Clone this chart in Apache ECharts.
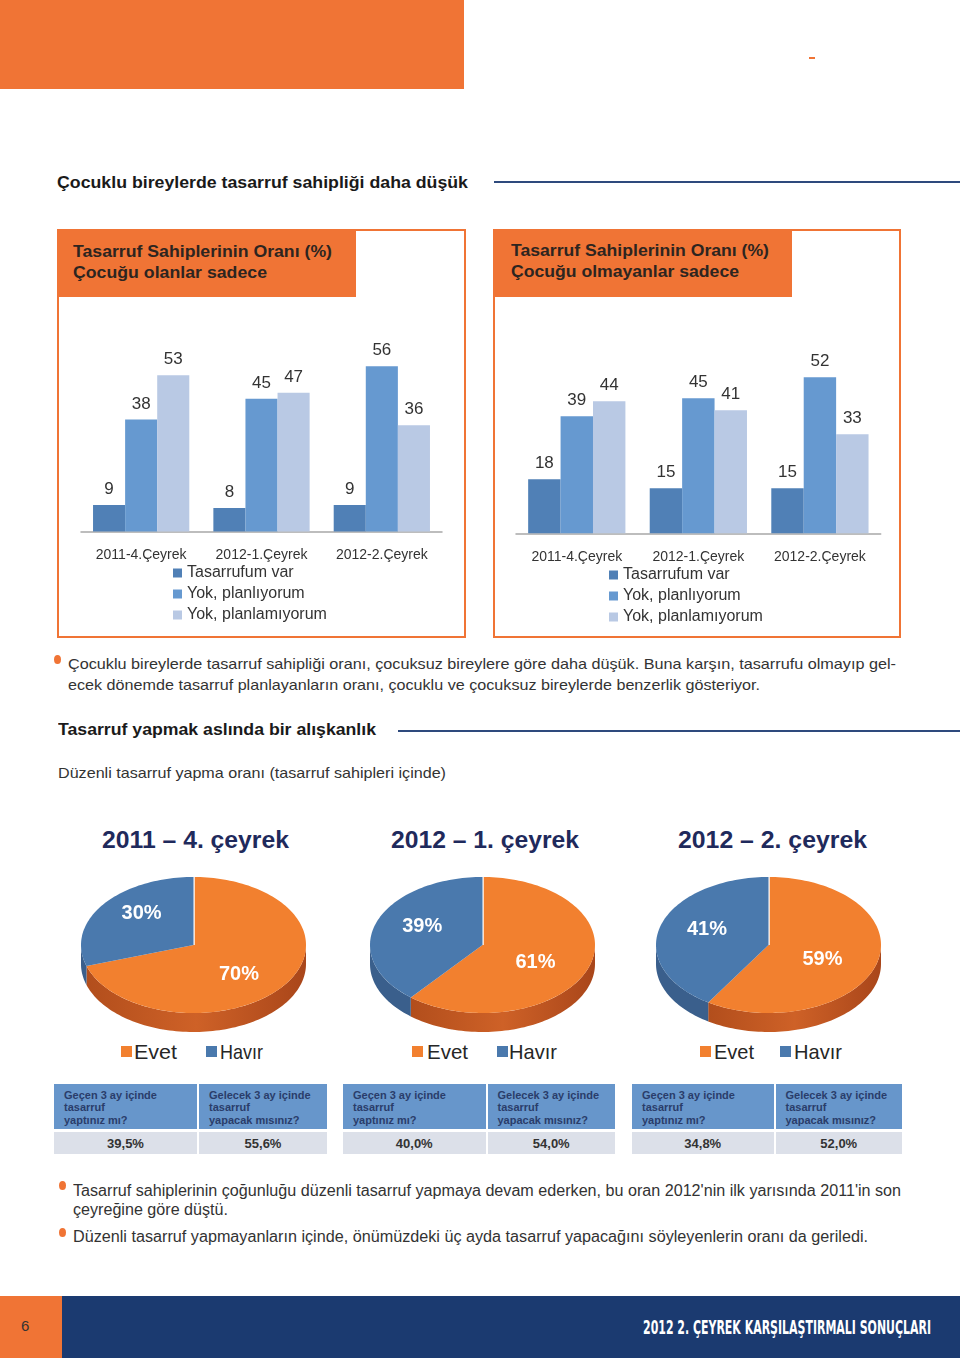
<!DOCTYPE html>
<html lang="tr"><head><meta charset="utf-8">
<script src="https://cdn.jsdelivr.net/npm/echarts/dist/echarts.min.js"></script>
<style>
html,body{margin:0;padding:0;background:#fff;}
#page{position:relative;width:960px;height:1358px;overflow:hidden;font-family:'Liberation Sans',Arial,sans-serif;color:#333;}
.abs{position:absolute;}
.t{position:absolute;left:0;white-space:nowrap;line-height:1;transform-origin:0 50%;}
.box{position:absolute;border:2px solid #F07435;box-sizing:border-box;}
.dot{position:absolute;width:7px;height:9px;border-radius:50%;background:#F07435;}
</style></head><body><div id="page"></div>
<script>
// ---------- DATA ----------
const barCategories = ['2011-4.Çeyrek', '2012-1.Çeyrek', '2012-2.Çeyrek'];
const barSeriesNames = ['Tasarrufum var', 'Yok, planlıyorum', 'Yok, planlamıyorum'];
const withChildHas = [9, 8, 9];
const withChildPlan = [38, 45, 56];
const withChildNoPlan = [53, 47, 36];
const noChildHas = [18, 15, 15];
const noChildPlan = [39, 45, 52];
const noChildNoPlan = [44, 41, 33];
const pieQuarters = ['2011 – 4. çeyrek', '2012 – 1. çeyrek', '2012 – 2. çeyrek'];
const pieLegend = ['Evet', 'Havır'];
const pieEvet = [70, 61, 59];
const pieHavir = [30, 39, 41];
const tableHeads = ['Geçen 3 ay içinde\ntasarruf\nyaptınız mı?', 'Gelecek 3 ay içinde\ntasarruf\nyapacak mısınız?'];
const pastSaving = ['39,5%', '40,0%', '34,8%'];
const futureSaving = ['55,6%', '54,0%', '52,0%'];

// ---------- STYLE ----------
const FONT = "'Liberation Sans', Arial, sans-serif";
const ORANGE = '#F07435';
const NAVY = '#1B3A70';
const LINE = '#2E4A7D';
const BAR_COLORS = ['#5080B6', '#6699D0', '#B9C9E4'];
const page = document.getElementById('page');

function rect(x, y, w, h, bg, cls) {
  const d = document.createElement('div');
  d.className = cls || 'abs';
  Object.assign(d.style, {left: x + 'px', top: y + 'px', width: w + 'px', height: h + 'px'});
  if (bg) d.style.background = bg;
  page.appendChild(d); return d;
}
function T(text, x, cy, fs, w, o) {
  o = o || {};
  const d = document.createElement('div');
  d.className = 't'; d.textContent = text;
  d.style.fontSize = fs + 'px';
  d.style.fontWeight = o.bold ? 'bold' : 'normal';
  d.style.color = o.color || '#333';
  if (o.family) d.style.fontFamily = o.family;
  d.style.top = (cy - 0.49 * fs) + 'px';
  page.appendChild(d);
  const a = d.getBoundingClientRect().width;
  const s = w ? w / a : 1;
  d.style.left = (o.center ? x - (w || a) / 2 : x) + 'px';
  d.style.transform = 'scaleX(' + s + ')';
  return d;
}

// ---------- PAGE FRAME ----------
rect(0, 0, 464, 89, ORANGE);
rect(809, 57, 6, 2, ORANGE);
T('Çocuklu bireylerde tasarruf sahipliği daha düşük', 57, 182, 17, 411, {bold: true, color: '#1a1a1a'});
rect(494, 181, 466, 2, LINE);

rect(57, 229, 409, 409, null, 'box');
rect(493, 229, 408, 409, null, 'box');
rect(57, 229, 299, 68, ORANGE);
rect(493, 229, 299, 68, ORANGE);
T('Tasarruf Sahiplerinin Oranı (%)', 73, 251.5, 17, 259, {bold: true, color: '#2d2520'});
T('Çocuğu olanlar sadece', 73, 272.5, 17, 194, {bold: true, color: '#2d2520'});
T('Tasarruf Sahiplerinin Oranı (%)', 510.5, 250, 17, 258, {bold: true, color: '#2d2520'});
T('Çocuğu olmayanlar sadece', 510.5, 271, 17, 228, {bold: true, color: '#2d2520'});

rect(54, 655, 7, 9, null, 'dot');
T('Çocuklu bireylerde tasarruf sahipliği oranı, çocuksuz bireylere göre daha düşük. Buna karşın, tasarrufu olmayıp gel-', 68, 663, 15, 828);
T('ecek dönemde tasarruf planlayanların oranı, çocuklu ve çocuksuz bireylerde benzerlik gösteriyor.', 68, 684, 15, 692);

T('Tasarruf yapmak aslında bir alışkanlık', 58, 729, 17, 318, {bold: true, color: '#1a1a1a'});
rect(398, 730, 562, 2, LINE);
T('Düzenli tasarruf yapma oranı (tasarruf sahipleri içinde)', 58, 772, 15, 388);

// pie titles & legends
const titleCenters = [195.5, 485, 772.5];
const titleWidths = [187, 188, 189];
pieQuarters.forEach((q, k) => T(q, titleCenters[k], 840, 24, titleWidths[k], {bold: true, center: true, color: '#1F2A5C'}));
const legSq = [[121, 206], [412, 496.5], [699.5, 780]];
const legTx = [[134, 219.5], [426.5, 509], [713.5, 794]];
const legW = [[43, 43], [41, 48], [40, 48]];
const PIE_COLORS = ['#F2802F', '#4A79AD'];
for (let k = 0; k < 3; k++) {
  for (let i = 0; i < 2; i++) {
    rect(legSq[k][i], 1046, 11, 11, PIE_COLORS[i]);
    T(pieLegend[i], legTx[k][i], 1051.5, 21, legW[k][i], {color: '#262626'});
  }
}

// tables
const tblCols = [[[54, 197], [199, 327]], [[343, 485.5], [487.5, 615]], [[632, 773.5], [775.5, 902]]];
for (let k = 0; k < 3; k++) {
  const vals = [pastSaving[k], futureSaving[k]];
  for (let c = 0; c < 2; c++) {
    const [x0, x1] = tblCols[k][c];
    rect(x0, 1084, x1 - x0, 45, '#6796CB');
    rect(x0, 1132, x1 - x0, 22, '#DCE0E9');
    tableHeads[c].split('\n').forEach((ln, j) => T(ln, x0 + 10, 1095 + j * 12.8, 11, null, {bold: true, color: '#2A3D6A'}));
    T(vals[c], (x0 + x1) / 2, 1143.3, 13, null, {bold: true, center: true, color: '#333'});
  }
}

rect(58.5, 1180.5, 7, 9, null, 'dot');
T("Tasarruf sahiplerinin çoğunluğu düzenli tasarruf yapmaya devam ederken, bu oran 2012'nin ilk yarısında 2011'in son", 73, 1190.5, 16, 828);
T('çeyreğine göre düştü.', 73, 1209.5, 16, 155);
rect(58.5, 1228, 7, 9, null, 'dot');
T('Düzenli tasarruf yapmayanların içinde, önümüzdeki üç ayda tasarruf yapacağını söyleyenlerin oranı da geriledi.', 73, 1237, 16, 795);

rect(0, 1296, 62, 62, ORANGE);
rect(62, 1296, 898, 62, NAVY);
T('6', 21, 1325, 15, null, {color: '#333'});
T('2012 2. ÇEYREK KARŞILAŞTIRMALI SONUÇLARI', 643, 1327, 19, 288, {bold: true, color: '#fff', family: "'Liberation Sans Narrow','DejaVu Sans Condensed',sans-serif"});

// ---------- BAR CHARTS ----------
function chartDiv(x, y, w, h) { return rect(x, y, w, h, null); }
function barOption(vals, g, lg) {
  return {
    animation: false,
    textStyle: {fontFamily: FONT},
    grid: {left: g.l, top: g.t, width: g.w, height: g.h},
    xAxis: {type: 'category', data: barCategories,
      axisLine: {lineStyle: {color: '#a8a8a8', width: 1.5}}, axisTick: {show: false},
      axisLabel: {fontSize: 14, color: '#333', margin: 17, fontFamily: FONT}},
    yAxis: {type: 'value', min: 0, max: 60, show: false},
    legend: {orient: 'vertical', left: lg.l, top: lg.t, padding: 0, itemWidth: 9, itemHeight: 9, itemGap: 5,
      icon: 'rect', textStyle: {fontSize: 16, color: '#333', lineHeight: 16, fontFamily: FONT}, data: barSeriesNames},
    series: vals.map((v, i) => ({
      name: barSeriesNames[i], type: 'bar', data: v, barGap: '0%', barCategoryGap: '20%',
      itemStyle: {color: BAR_COLORS[i]},
      label: {show: true, position: 'top', distance: 7, fontSize: 17, color: '#333', fontFamily: FONT}
    }))
  };
}
echarts.init(chartDiv(57, 300, 408, 336)).setOption(
  barOption([withChildHas, withChildPlan, withChildNoPlan], {l: 24, t: 54.5, w: 361, h: 177}, {l: 116, t: 265}));
echarts.init(chartDiv(493, 300, 408, 336)).setOption(
  barOption([noChildHas, noChildPlan, noChildNoPlan], {l: 23, t: 53.3, w: 364.7, h: 180}, {l: 116, t: 267}));

// ---------- PIE CHARTS (tilted 3D look via custom series) ----------
const PIE_CX = [193.5, 482.5, 768.5], PIE_CY = 85, PIE_RX = 112.5, PIE_RY = 68, PIE_D = 19;
const LABEL_FX = [0.5, 0.57], LABEL_FY = [0.75, 0.8];
const SIDE_COLORS = [
  new echarts.graphic.LinearGradient(0, 0, 1, 0, [{offset: 0, color: '#B24E1C'}, {offset: 0.5, color: '#CE6127'}, {offset: 1, color: '#A9461A'}]),
  '#3A5F8C'];
function pieSeries(k) {
  const vals = [pieEvet[k], pieHavir[k]];
  const total = vals.reduce((a, b) => a + b, 0);
  const cx = PIE_CX[k], cy = PIE_CY, rx = PIE_RX, ry = PIE_RY, d = PIE_D;
  const pt = (th, dy) => [cx + rx * Math.sin(th), cy - ry * Math.cos(th) + (dy || 0)];
  const arc = (a, b, dy) => { const n = Math.max(2, Math.ceil(Math.abs(b - a) / 0.03)); const out = [];
    for (let s = 0; s <= n; s++) out.push(pt(a + (b - a) * s / n, dy)); return out; };
  return {
    type: 'custom', coordinateSystem: 'none',
    data: vals.map((v, i) => ({name: pieLegend[i], value: v})),
    renderItem: (params, api) => {
      const i = params.dataIndex;
      let start = 0; for (let j = 0; j < i; j++) start += vals[j];
      const a0 = start / total * 2 * Math.PI, a1 = (start + api.value(0)) / total * 2 * Math.PI;
      const children = [];
      const sa = Math.max(a0, Math.PI / 2), sb = Math.min(a1, 3 * Math.PI / 2);
      if (sa < sb) {
        children.push({type: 'polygon', shape: {points: arc(sa, sb, 0).concat(arc(sb, sa, d))},
          style: {fill: SIDE_COLORS[i]}});
      }
      children.push({type: 'polygon', shape: {points: [[cx, cy]].concat(arc(a0, a1, 0))},
        style: {fill: PIE_COLORS[i]}});
      if (i === 0) children.push({type: 'line', shape: {x1: cx, y1: cy, x2: pt(0)[0], y2: pt(0)[1] - 1},
        style: {stroke: '#fff', lineWidth: 2.5}});
      const m = (a0 + a1) / 2;
      children.push({type: 'text', x: cx + rx * LABEL_FX[i] * Math.sin(m), y: cy - ry * LABEL_FY[i] * Math.cos(m),
        style: {text: Math.round(api.value(0)) + '%', fill: '#fff', font: 'bold 20px ' + FONT, align: 'center', verticalAlign: 'middle'}});
      return {type: 'group', children};
    }
  };
}
echarts.init(chartDiv(0, 860, 960, 190)).setOption({animation: false, series: [0, 1, 2].map(pieSeries)});
</script></body></html>
